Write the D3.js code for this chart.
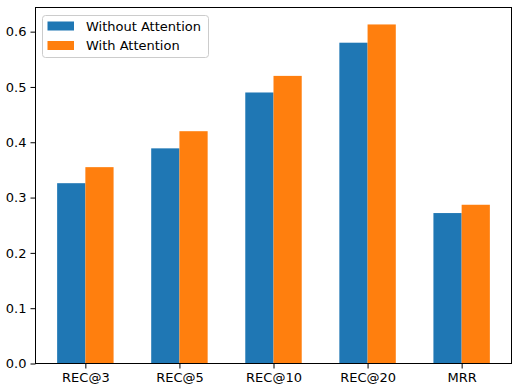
<!DOCTYPE html>
<html>
<head>
<meta charset="utf-8">
<script src="https://cdn.jsdelivr.net/npm/d3@7"></script>
<style>
  body { margin: 0; background: #fff; }
  text { font-family: "DejaVu Sans", sans-serif; }
</style>
</head>
<body>
<script>
// data
var categories = ["REC@3", "REC@5", "REC@10", "REC@20", "MRR"];
var withoutAttention = [0.326, 0.389, 0.490, 0.580, 0.272];
var withAttention = [0.355, 0.420, 0.520, 0.613, 0.287];
var seriesNames = ["Without Attention", "With Attention"];
var yTicks = [0.0, 0.1, 0.2, 0.3, 0.4, 0.5, 0.6];

var w = 519, h = 391;
var padL = 35.5, padR = 511.5, padT = 7.5, padB = 363.5;
var colors = ["#1f77b4", "#ff7f0e"];
var barW = 0.3;
var fontSize = 13;

var svg = d3.select("body").append("svg")
  .attr("width", w)
  .attr("height", h);

// x is numeric like matplotlib: index positions with 5% margin
var xScale = d3.scaleLinear()
  .domain([-barW - 0.23, categories.length - 1 + barW + 0.23])
  .range([padL, padR]);

var yMax = d3.max(withAttention.concat(withoutAttention)) * 1.05;
var yScale = d3.scaleLinear()
  .domain([0, yMax])
  .range([padB, padT]);

var series = [withoutAttention, withAttention];

series.forEach(function(vals, s) {
  svg.append("g").selectAll("rect")
    .data(vals)
    .enter()
    .append("rect")
    .attr("x", function(d, i) { return xScale(s === 0 ? i - barW : i); })
    .attr("width", xScale(barW) - xScale(0))
    .attr("y", function(d) { return yScale(d); })
    .attr("height", function(d) { return yScale(0) - yScale(d); })
    .attr("fill", colors[s]);
});

// axes
var xAxis = d3.axisBottom(xScale)
  .tickValues(d3.range(categories.length))
  .tickFormat(function(i) { return categories[i]; })
  .tickSize(5).tickPadding(4);
var yAxis = d3.axisLeft(yScale)
  .tickValues(yTicks)
  .tickFormat(d3.format(".1f"))
  .tickSize(5).tickPadding(4);

var gx = svg.append("g")
  .attr("transform", "translate(0," + padB + ")")
  .call(xAxis);
var gy = svg.append("g")
  .attr("transform", "translate(" + padL + ",0)")
  .call(yAxis);

[gx, gy].forEach(function(g) {
  g.select(".domain").remove();
  g.selectAll("text").attr("font-size", fontSize).attr("fill", "#000")
    .style("font-family", "DejaVu Sans");
  g.selectAll("line").attr("stroke", "#000").attr("stroke-width", 1);
});

// frame
svg.append("rect")
  .attr("x", padL).attr("y", padT)
  .attr("width", padR - padL).attr("height", padB - padT)
  .attr("fill", "none")
  .attr("stroke", "#000")
  .attr("stroke-width", 1);

// legend
var legend = svg.append("g").attr("transform", "translate(42.5,15.5)");
legend.append("rect")
  .attr("width", 166).attr("height", 42)
  .attr("rx", 3)
  .attr("fill", "#fff").attr("fill-opacity", 0.8)
  .attr("stroke", "#ccc").attr("stroke-width", 1);

seriesNames.forEach(function(name, i) {
  legend.append("rect")
    .attr("x", 5).attr("y", 6 + i * 19.5)
    .attr("width", 26.5).attr("height", 9)
    .attr("fill", colors[i]);
  legend.append("text")
    .attr("x", 43.5).attr("y", 15 + i * 19.5)
    .attr("font-size", fontSize)
    .attr("fill", "#000")
    .text(name);
});
</script>
</body>
</html>
